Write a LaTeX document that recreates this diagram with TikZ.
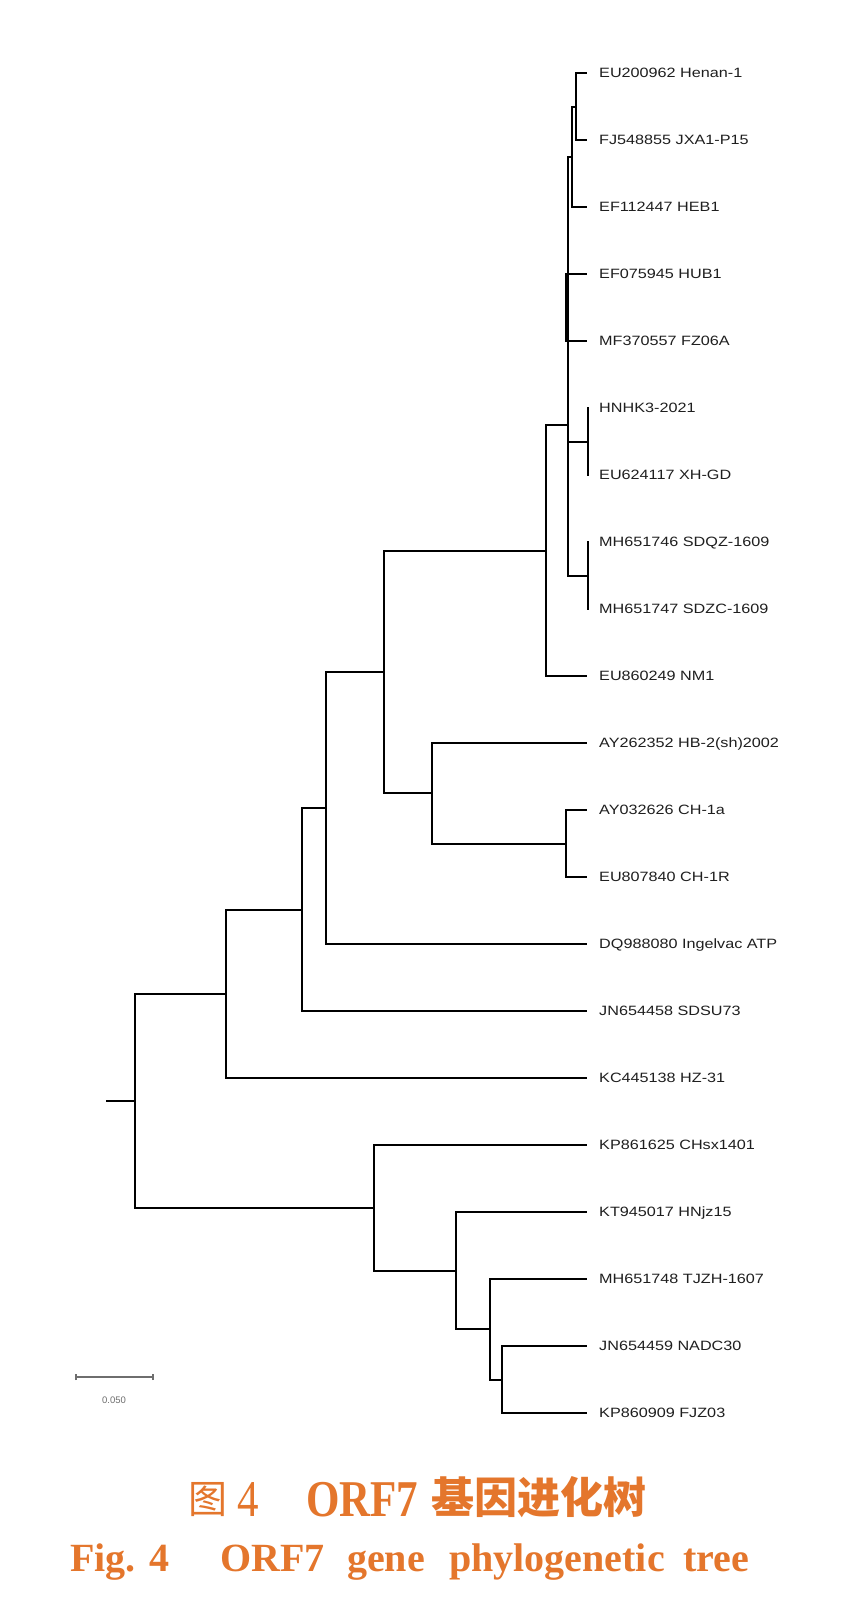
\documentclass[tikz,border=0pt]{standalone}
\usepackage{fontspec}
\setmainfont{Liberation Serif}
\newfontfamily\labelfont[FakeStretch=1.2]{Liberation Sans}
\newfontfamily\smallsans{Liberation Sans}
\newfontfamily\cjk{Noto Sans CJK SC}
\definecolor{capor}{RGB}{228,118,44}
\definecolor{bargray}{RGB}{110,110,110}
\begin{document}
\begin{tikzpicture}[x=1pt,y=-1pt,
  br/.style={line width=2pt, black, line cap=rect},
  leaf/.style={anchor=west, inner sep=0pt, text height=9.6pt, text depth=0pt,
    font=\labelfont\fontsize{13.5}{16}\selectfont, text=black!88},
  sbar/.style={line width=1.8pt, bargray},
  captxt/.style={anchor=base west, inner sep=0pt, text=capor,
    font=\fontsize{43}{50}\selectfont},
  captwo/.style={captxt, font=\fontsize{40}{48}\selectfont\bfseries}]
\useasboundingbox (0,0) rectangle (844,1609);
\fill[white] (0,0) rectangle (844,1609);

% leaf tips
\coordinate (l0) at (586,73);
\coordinate (l1) at (586,140);
\coordinate (l2) at (586,207);
\coordinate (l3) at (586,274);
\coordinate (l4) at (586,341);
\coordinate (l5) at (588,408);
\coordinate (l6) at (588,475);
\coordinate (l7) at (588,542);
\coordinate (l8) at (588,609);
\coordinate (l9) at (586,676);
\coordinate (l10) at (586,743);
\coordinate (l11) at (586,810);
\coordinate (l12) at (586,877);
\coordinate (l13) at (586,944);
\coordinate (l14) at (586,1011);
\coordinate (l15) at (586,1078);
\coordinate (l16) at (586,1145);
\coordinate (l17) at (586,1212);
\coordinate (l18) at (586,1279);
\coordinate (l19) at (586,1346);
\coordinate (l20) at (586,1413);

% leaf labels
\node[leaf] (n0) at (599,73) {EU200962 Henan-1};
\node[leaf] (n1) at (599,140) {FJ548855 JXA1-P15};
\node[leaf] (n2) at (599,207) {EF112447 HEB1};
\node[leaf] (n3) at (599,274) {EF075945 HUB1};
\node[leaf] (n4) at (599,341) {MF370557 FZ06A};
\node[leaf] (n5) at (599,408) {HNHK3-2021};
\node[leaf] (n6) at (599,475) {EU624117 XH-GD};
\node[leaf] (n7) at (599,542) {MH651746 SDQZ-1609};
\node[leaf] (n8) at (599,609) {MH651747 SDZC-1609};
\node[leaf] (n9) at (599,676) {EU860249 NM1};
\node[leaf] (n10) at (599,743) {AY262352 HB-2(sh)2002};
\node[leaf] (n11) at (599,810) {AY032626 CH-1a};
\node[leaf] (n12) at (599,877) {EU807840 CH-1R};
\node[leaf] (n13) at (599,944) {DQ988080 Ingelvac ATP};
\node[leaf] (n14) at (599,1011) {JN654458 SDSU73};
\node[leaf] (n15) at (599,1078) {KC445138 HZ-31};
\node[leaf] (n16) at (599,1145) {KP861625 CHsx1401};
\node[leaf] (n17) at (599,1212) {KT945017 HNjz15};
\node[leaf] (n18) at (599,1279) {MH651748 TJZH-1607};
\node[leaf] (n19) at (599,1346) {JN654459 NADC30};
\node[leaf] (n20) at (599,1413) {KP860909 FJZ03};

% internal nodes
\coordinate (t1) at (576,106.5);
\coordinate (t2) at (572,156.75);
\coordinate (t4) at (566,307.5);
\coordinate (p) at (588,441.5);
\coordinate (q) at (588,575.5);
\coordinate (m) at (568,425);
\coordinate (h) at (546,550.5);
\coordinate (lc) at (566,843.5);
\coordinate (k) at (432,793.25);
\coordinate (i) at (384,671.9);
\coordinate (c) at (326,808);
\coordinate (b) at (302,909.5);
\coordinate (a) at (226,993.75);
\coordinate (g) at (502,1379.5);
\coordinate (f) at (490,1329.25);
\coordinate (e) at (456,1270.6);
\coordinate (d) at (374,1207.8);
\coordinate (root) at (135,1100.8);
\coordinate (stub) at (107,1100.8);

% branches
\draw[br] (t1) |- (l0);  \draw[br] (t1) |- (l1);
\draw[br] (t2) |- (t1);  \draw[br] (t2) |- (l2);
\draw[br] (t4) |- (l3);  \draw[br] (t4) |- (l4);
\draw[br] (p) |- (l5);   \draw[br] (p) |- (l6);
\draw[br] (q) |- (l7);   \draw[br] (q) |- (l8);
\draw[br] (m) |- (t2);   \draw[br] (m) |- (t4);
\draw[br] (m) |- (p);    \draw[br] (m) |- (q);
\draw[br] (h) |- (m);    \draw[br] (h) |- (l9);
\draw[br] (lc) |- (l11); \draw[br] (lc) |- (l12);
\draw[br] (k) |- (l10);  \draw[br] (k) |- (lc);
\draw[br] (i) |- (h);    \draw[br] (i) |- (k);
\draw[br] (c) |- (i);    \draw[br] (c) |- (l13);
\draw[br] (b) |- (c);    \draw[br] (b) |- (l14);
\draw[br] (a) |- (b);    \draw[br] (a) |- (l15);
\draw[br] (g) |- (l19);  \draw[br] (g) |- (l20);
\draw[br] (f) |- (l18);  \draw[br] (f) |- (g);
\draw[br] (e) |- (l17);  \draw[br] (e) |- (f);
\draw[br] (d) |- (l16);  \draw[br] (d) |- (e);
\draw[br] (root) |- (a); \draw[br] (root) |- (d);
\draw[br] (stub) -- (root);

% scale bar
\coordinate (sb1) at (76,1377);
\coordinate (sb2) at (153,1377);
\draw[sbar] (sb1) -- (sb2);
\draw[sbar] ([yshift=-3pt]sb1) -- ([yshift=3pt]sb1);
\draw[sbar] ([yshift=-3pt]sb2) -- ([yshift=3pt]sb2);
\node[inner sep=0pt, text=bargray, font=\smallsans\fontsize{9.5}{10}\selectfont] (sbl) at (114,1400) {0.050};

% caption line 1
\node[captxt, font=\fontsize{39}{46}\selectfont] (c1a) at (188,1513) {\cjk 图};
\node[captxt] (c1b) at (237,1516) {\scalebox{1}[1.2]{4}};
\node[captxt] (c1c) at (306,1516) {\scalebox{1}[1.2]{\bfseries ORF7}};
\node[captxt] (c1d) at (431,1513) {\cjk\bfseries 基因进化树};

% caption line 2
\node[captwo] (c2a) at (70,1571) {Fig. 4};
\node[captwo] (c2b) at (220,1571) {ORF7};
\node[captwo] (c2c) at (347,1571) {gene};
\node[captwo] (c2d) at (449,1571) {phylogenetic};
\node[captwo] (c2e) at (683,1571) {tree};
\end{tikzpicture}
\end{document}
